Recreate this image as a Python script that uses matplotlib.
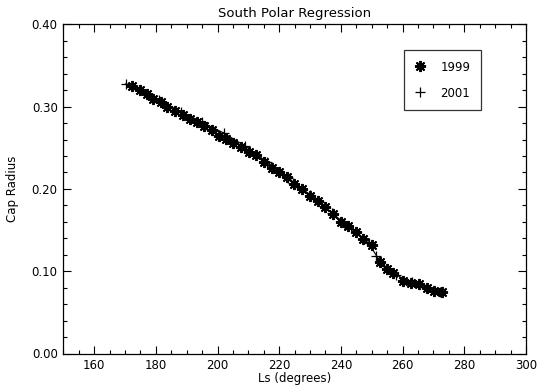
import matplotlib
matplotlib.use("Agg")
import matplotlib.pyplot as plt
from matplotlib.ticker import MultipleLocator, FormatStrFormatter

# 1999 observations (asterisks)
ls_1999 = [172.3, 174.9, 177.0, 179.2, 181.6, 183.7, 186.2, 188.7, 191.1, 193.4,
           195.5, 198.1, 200.6, 202.7, 205.1, 207.5, 210.3, 212.5, 215.1, 217.6,
           220.0, 222.4, 224.8, 227.4, 230.0, 232.5, 234.8, 237.4, 240.0, 242.4,
           244.9, 247.2, 250.0, 252.7, 255.0, 257.0, 260.2, 262.6, 265.4, 268.0,
           270.3, 272.7]
r_1999 = [0.3255, 0.3203, 0.3154, 0.3093, 0.3060, 0.3000, 0.2951, 0.2899, 0.2850, 0.2810,
          0.2761, 0.2716, 0.2647, 0.2603, 0.2562, 0.2514, 0.2445, 0.2409, 0.2324, 0.2251,
          0.2210, 0.2142, 0.2065, 0.1996, 0.1918, 0.1857, 0.1777, 0.1695, 0.1602, 0.1553,
          0.1473, 0.1392, 0.1313, 0.1108, 0.1023, 0.0975, 0.0885, 0.0861, 0.0841, 0.0792,
          0.0760, 0.0751]

# 2001 observations (plus signs, connected)
ls_2001 = [170.3, 175.0, 181.0, 188.0, 195.0, 202.0, 209.0, 216.0, 223.0, 230.0,
           237.0, 241.0, 245.0, 249.0, 251.5, 254.0, 258.0, 263.0, 268.0, 272.0]
r_2001 = [0.328, 0.320, 0.308, 0.294, 0.281, 0.268, 0.252, 0.233, 0.213, 0.193,
          0.171, 0.159, 0.148, 0.134, 0.119, 0.106, 0.095, 0.087, 0.080, 0.075]

title = "South Polar Regression"
xlabel = "Ls (degrees)"
ylabel = "Cap Radius"

W, H = 539, 389
fig = plt.figure(figsize=(W / 100, H / 100), dpi=100)
L, R, B, T = 63.3, 526.0, 353.5, 24.4
ax = fig.add_axes([L / W, 1 - B / H, (R - L) / W, (B - T) / H])

ax.plot(ls_2001, r_2001, color="black", lw=0.8, marker="+", ms=7, mew=0.9,
        label="2001", zorder=2)
ax.plot(ls_1999, r_1999, color="black", lw=0, marker=(8, 2, 0), ms=8, mew=1.4,
        label="1999", zorder=3)

ax.set_xlim(150, 300)
ax.set_ylim(0, 0.4)
ax.xaxis.set_major_locator(MultipleLocator(20))
ax.xaxis.set_minor_locator(MultipleLocator(5))
ax.yaxis.set_major_locator(MultipleLocator(0.1))
ax.yaxis.set_minor_locator(MultipleLocator(0.02))
ax.yaxis.set_major_formatter(FormatStrFormatter("%.2f"))

ax.tick_params(which="both", direction="in", top=True, right=True,
               labelsize=8.5, width=0.8)
ax.tick_params(axis="x", pad=4)
ax.tick_params(axis="y", pad=4)
ax.tick_params(which="major", length=6)
ax.tick_params(which="minor", length=3)
for s in ax.spines.values():
    s.set_linewidth(0.9)

ax.set_title(title, fontsize=9.5, pad=5)
ax.set_xlabel(xlabel, fontsize=8.5, labelpad=0)
ax.set_ylabel(ylabel, fontsize=8.5, labelpad=9)

lx = (481 - L) / (R - L)
ly = (B - 50) / (B - T)
handles, labels = ax.get_legend_handles_labels()
leg = ax.legend(handles[::-1], labels[::-1], loc="upper right",
                bbox_to_anchor=(lx, ly), fontsize=8.5, frameon=True,
                fancybox=False, edgecolor="black", handlelength=1.0,
                handletextpad=1.2, labelspacing=1.1, borderpad=0.9,
                borderaxespad=0)
leg.get_frame().set_linewidth(0.9)
for h in leg.legend_handles:
    h.set_linestyle("none")

fig.savefig("out.png", dpi=100)
